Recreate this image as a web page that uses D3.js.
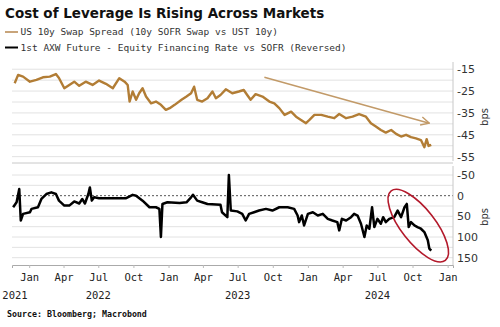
<!DOCTYPE html>
<html>
<head>
<meta charset="utf-8">
<script src="https://cdn.jsdelivr.net/npm/d3@7"></script>
<style>
  body { margin: 0; background: #fff; }
  svg { display: block; }
</style>
</head>
<body>
<svg></svg>
<script>
var width = 500, height = 327;
var left = 12, right = 453;

// data

var swapSpread = [
  ["2021-11-24", -21.4], ["2021-12-03", -17.6], ["2021-12-16", -18.4], ["2022-01-03", -20.7],
  ["2022-01-20", -19.9], ["2022-02-06", -18.7], ["2022-02-24", -18.4], ["2022-03-12", -17.2],
  ["2022-03-20", -19.0], ["2022-04-03", -23.7], ["2022-04-16", -22.2], ["2022-04-29", -20.7],
  ["2022-05-12", -22.6], ["2022-05-29", -20.7], ["2022-06-16", -22.2], ["2022-07-03", -20.2],
  ["2022-07-21", -21.7], ["2022-08-08", -23.7], ["2022-08-25", -19.1], ["2022-09-08", -20.7],
  ["2022-09-16", -22.2], ["2022-09-21", -29.8], ["2022-09-29", -25.2], ["2022-10-08", -29.0],
  ["2022-10-16", -26.0], ["2022-10-25", -23.7], ["2022-11-03", -27.5], ["2022-11-16", -30.6],
  ["2022-11-29", -29.8], ["2022-12-12", -31.3], ["2022-12-25", -33.6], ["2023-01-04", -32.8],
  ["2023-01-17", -31.3], ["2023-02-04", -29.0], ["2023-02-17", -27.5], ["2023-03-01", -26.0],
  ["2023-03-09", -23.0], ["2023-03-17", -29.0], ["2023-03-30", -29.8], ["2023-04-13", -28.3],
  ["2023-04-26", -25.2], ["2023-05-05", -28.3], ["2023-05-17", -26.8], ["2023-05-31", -24.2],
  ["2023-06-17", -26.0], ["2023-07-04", -25.2], ["2023-07-17", -24.5], ["2023-07-26", -26.8],
  ["2023-08-04", -29.0], ["2023-08-17", -26.4], ["2023-09-04", -27.5], ["2023-09-22", -29.8],
  ["2023-10-05", -30.6], ["2023-10-18", -32.8], ["2023-11-01", -35.9], ["2023-11-18", -34.4],
  ["2023-12-01", -36.7], ["2023-12-14", -38.2], ["2023-12-27", -39.7], ["2024-01-05", -38.2],
  ["2024-01-18", -35.9], ["2024-02-05", -35.9], ["2024-02-22", -36.7], ["2024-03-10", -37.4],
  ["2024-03-23", -35.5], ["2024-04-10", -37.4], ["2024-04-27", -36.7], ["2024-05-14", -35.5],
  ["2024-06-01", -36.7], ["2024-06-14", -39.7], ["2024-06-27", -41.2], ["2024-07-10", -42.8],
  ["2024-07-23", -44.0], ["2024-08-06", -42.8], ["2024-08-19", -44.6], ["2024-09-01", -45.8],
  ["2024-09-14", -45.0], ["2024-09-27", -46.1], ["2024-10-10", -46.6], ["2024-10-23", -47.4],
  ["2024-11-01", -50.7], ["2024-11-07", -47.0], ["2024-11-12", -50.1], ["2024-11-19", -49.6]
];

var axwFinancing = [
  ["2021-11-20", 28], ["2021-11-29", 16], ["2021-12-06", -16], ["2021-12-10", 60],
  ["2021-12-16", 44], ["2022-01-03", 40], ["2022-01-07", 32], ["2022-01-24", 28],
  ["2022-02-02", 8], ["2022-02-15", -4], ["2022-02-28", -8], ["2022-03-12", -4],
  ["2022-03-20", 12], ["2022-04-03", 24], ["2022-04-16", 24], ["2022-04-29", 14],
  ["2022-05-12", 19], ["2022-05-20", 8], ["2022-05-27", 19], ["2022-06-05", -4],
  ["2022-06-09", -20], ["2022-06-14", 12], ["2022-06-20", 4], ["2022-07-03", 6],
  ["2022-08-16", 6], ["2022-09-12", 6], ["2022-09-29", -2], ["2022-10-08", 0],
  ["2022-10-25", 12], ["2022-11-12", 28], ["2022-11-29", 28], ["2022-12-08", 32],
  ["2022-12-12", 100], ["2022-12-16", 20], ["2022-12-29", 16], ["2023-01-30", 18],
  ["2023-02-17", 16], ["2023-03-01", 4], ["2023-03-06", -2], ["2023-03-17", 12],
  ["2023-03-30", 16], ["2023-04-13", 20], ["2023-05-17", 22], ["2023-05-21", 40],
  ["2023-06-04", 52], ["2023-06-08", -50], ["2023-06-13", 36], ["2023-06-30", 38],
  ["2023-07-13", 44], ["2023-07-22", 60], ["2023-07-31", 44], ["2023-08-13", 40],
  ["2023-08-26", 36], ["2023-09-13", 32], ["2023-09-30", 36], ["2023-10-18", 28],
  ["2023-11-09", 28], ["2023-11-26", 32], ["2023-12-05", 48], ["2023-12-09", 64],
  ["2023-12-16", 48], ["2023-12-22", 72], ["2024-01-01", 44], ["2024-01-14", 40],
  ["2024-01-27", 48], ["2024-02-09", 44], ["2024-02-22", 56], ["2024-03-05", 60],
  ["2024-03-18", 64], ["2024-03-23", 84], ["2024-03-30", 56], ["2024-04-10", 60],
  ["2024-04-23", 52], ["2024-05-01", 44], ["2024-05-10", 48], ["2024-05-19", 68],
  ["2024-05-28", 100], ["2024-06-03", 72], ["2024-06-10", 80], ["2024-06-17", 28],
  ["2024-06-23", 76], ["2024-07-01", 56], ["2024-07-10", 68], ["2024-07-16", 52],
  ["2024-07-23", 64], ["2024-08-01", 56], ["2024-08-14", 52], ["2024-08-23", 36],
  ["2024-09-01", 52], ["2024-09-10", 28], ["2024-09-16", 20], ["2024-09-21", 76],
  ["2024-09-27", 64], ["2024-10-06", 72], ["2024-10-14", 76], ["2024-10-23", 80],
  ["2024-11-01", 88], ["2024-11-10", 108], ["2024-11-14", 128], ["2024-11-19", 133]
];

var topTicks = [-15, -25, -35, -45, -55];
var topGrid = [-15, -20, -25, -30, -35, -40, -45, -50, -55];
var botTicks = [-50, 0, 50, 100, 150];
var botGrid = [-50, -25, 0, 25, 50, 75, 100, 125, 150];
var yearLabels = ["2021", "2022", "2023", "2024"];
var legendLabels = [
  "US 10y Swap Spread (10y SOFR Swap vs UST 10y)",
  "1st AXW Future - Equity Financing Rate vs SOFR (Reversed)"
];

var parse = d3.timeParse("%Y-%m-%d");
var swap = swapSpread.map(d => ({date: parse(d[0]), value: d[1]}));
var axw = axwFinancing.map(d => ({date: parse(d[0]), value: d[1]}));

var brown = "#b27d35";

var svg = d3.select("svg")
  .attr("width", width)
  .attr("height", height);

// scales

var x = d3.scaleTime()
  .domain([new Date(2021, 10, 17), new Date(2025, 0, 15)])
  .range([left, right]);

var yTop = d3.scaleLinear().domain([-57.9, -11.7]).range([163, 62]);
var yBot = d3.scaleLinear().domain([-74.2, 167.7]).range([165, 265]);

// gridlines

svg.append("g").selectAll("line")
  .data(topGrid)
  .enter().append("line")
    .attr("x1", left).attr("x2", right)
    .attr("y1", d => yTop(d)).attr("y2", d => yTop(d))
    .attr("stroke", "#e2e2e2");

svg.append("g").selectAll("line")
  .data(botGrid)
  .enter().append("line")
    .attr("x1", left).attr("x2", right)
    .attr("y1", d => yBot(d)).attr("y2", d => yBot(d))
    .attr("stroke", d => d == 0 ? "#555" : "#e2e2e2")
    .attr("stroke-dasharray", d => d == 0 ? "2,2" : null);

// panel frames

svg.append("line")
  .attr("x1", left).attr("x2", right).attr("y1", 163).attr("y2", 163)
  .attr("stroke", "#c8c8c8");
svg.append("line")
  .attr("x1", right).attr("x2", right).attr("y1", 62).attr("y2", 161)
  .attr("stroke", "#c8c8c8");
svg.append("line")
  .attr("x1", right).attr("x2", right).attr("y1", 166).attr("y2", 265)
  .attr("stroke", "#c8c8c8");

// right axes

svg.append("g").selectAll("text")
  .data(topTicks)
  .enter().append("text")
    .attr("x", 457)
    .attr("y", d => yTop(d))
    .attr("dy", "0.35em")
    .style("font", "11px 'DejaVu Sans'")
    .attr("fill", "#333")
    .text(d => d);

svg.append("g").selectAll("text")
  .data(botTicks)
  .enter().append("text")
    .attr("x", 457)
    .attr("y", d => yBot(d))
    .attr("dy", "0.35em")
    .style("font", "11px 'DejaVu Sans'")
    .attr("fill", "#333")
    .text(d => d);

svg.append("text")
  .attr("transform", "translate(484,117) rotate(-90)")
  .attr("text-anchor", "middle").attr("dy", "0.35em")
  .style("font", "10px 'DejaVu Sans'").attr("fill", "#333")
  .text("bps");
svg.append("text")
  .attr("transform", "translate(484,217) rotate(-90)")
  .attr("text-anchor", "middle").attr("dy", "0.35em")
  .style("font", "10px 'DejaVu Sans'").attr("fill", "#333")
  .text("bps");

// x axis

var xAxis = svg.append("g")
  .attr("transform", "translate(0,265)")
  .call(d3.axisBottom(x)
    .ticks(d3.timeMonth.every(3))
    .tickFormat(d3.timeFormat("%b"))
    .tickSize(3)
    .tickPadding(6));

xAxis.select(".domain").attr("stroke", "#aaa");
xAxis.selectAll(".tick line").attr("stroke", "#bbb");
xAxis.selectAll("text")
  .style("font", "10.5px 'DejaVu Sans Mono'")
  .attr("fill", "#222");

svg.append("g").selectAll("text")
  .data(yearLabels)
  .enter().append("text")
    .attr("x", d => Math.max(x(new Date(+d, 6, 1)), 15))
    .attr("y", 299)
    .attr("text-anchor", "middle")
    .style("font", "10.5px 'DejaVu Sans Mono'")
    .attr("fill", "#222")
    .text(d => d);

// lines

svg.append("path")
  .datum(swap)
  .attr("fill", "none")
  .attr("stroke", brown)
  .attr("stroke-width", 2.4)
  .attr("stroke-linejoin", "round")
  .attr("d", d3.line().x(d => x(d.date)).y(d => yTop(d.value)));

svg.append("path")
  .datum(axw)
  .attr("fill", "none")
  .attr("stroke", "#000")
  .attr("stroke-width", 2.5)
  .attr("stroke-linejoin", "round")
  .attr("d", d3.line().x(d => x(d.date)).y(d => yBot(d.value)));

// annotations

var arrowFrom = {date: parse("2023-09-09"), value: -18.7};
var arrowTo = {date: parse("2024-11-14"), value: -39.7};
var ellipseAt = {date: parse("2024-10-16"), value: 72.5};

svg.append("defs").append("marker")
  .attr("id", "head")
  .attr("viewBox", "0 0 10 10")
  .attr("refX", 9).attr("refY", 5)
  .attr("markerWidth", 7).attr("markerHeight", 7)
  .attr("orient", "auto")
  .append("path")
    .attr("d", "M1,1 L9,5 L1,9")
    .attr("fill", "none")
    .attr("stroke", "#c29a68")
    .attr("stroke-width", 1.3);

svg.append("line")
  .attr("x1", x(arrowFrom.date)).attr("y1", yTop(arrowFrom.value))
  .attr("x2", x(arrowTo.date)).attr("y2", yTop(arrowTo.value))
  .attr("stroke", "#c29a68")
  .attr("stroke-width", 1.5)
  .attr("marker-end", "url(#head)");

svg.append("ellipse")
  .attr("transform", "translate(" + x(ellipseAt.date) + "," + yBot(ellipseAt.value) + ") rotate(52)")
  .attr("rx", 44).attr("ry", 17)
  .attr("fill", "none")
  .attr("stroke", "#b3192b")
  .attr("stroke-width", 1.6);

// title, legend, source

svg.append("text")
  .attr("x", 5).attr("y", 18)
  .style("font", "bold 13.5px 'DejaVu Sans'")
  .attr("fill", "#111")
  .text("Cost of Leverage Is Rising Across Markets");

var legend = svg.append("g").selectAll("g")
  .data(legendLabels)
  .enter().append("g")
    .attr("transform", (d, i) => "translate(0," + (32 + i * 15.5) + ")");

legend.append("line")
  .attr("x1", 5).attr("x2", 18)
  .attr("stroke", (d, i) => i == 0 ? "#c8a47a" : "#000")
  .attr("stroke-width", 2);

legend.append("text")
  .attr("x", 20.5)
  .attr("dy", "0.35em")
  .style("font", "9.5px 'DejaVu Sans Mono'")
  .attr("fill", "#333")
  .text(d => d);

svg.append("text")
  .attr("x", 7).attr("y", 317)
  .style("font", "bold 8.3px 'DejaVu Sans Mono'")
  .attr("fill", "#111")
  .text("Source: Bloomberg; Macrobond");
</script>
</body>
</html>
